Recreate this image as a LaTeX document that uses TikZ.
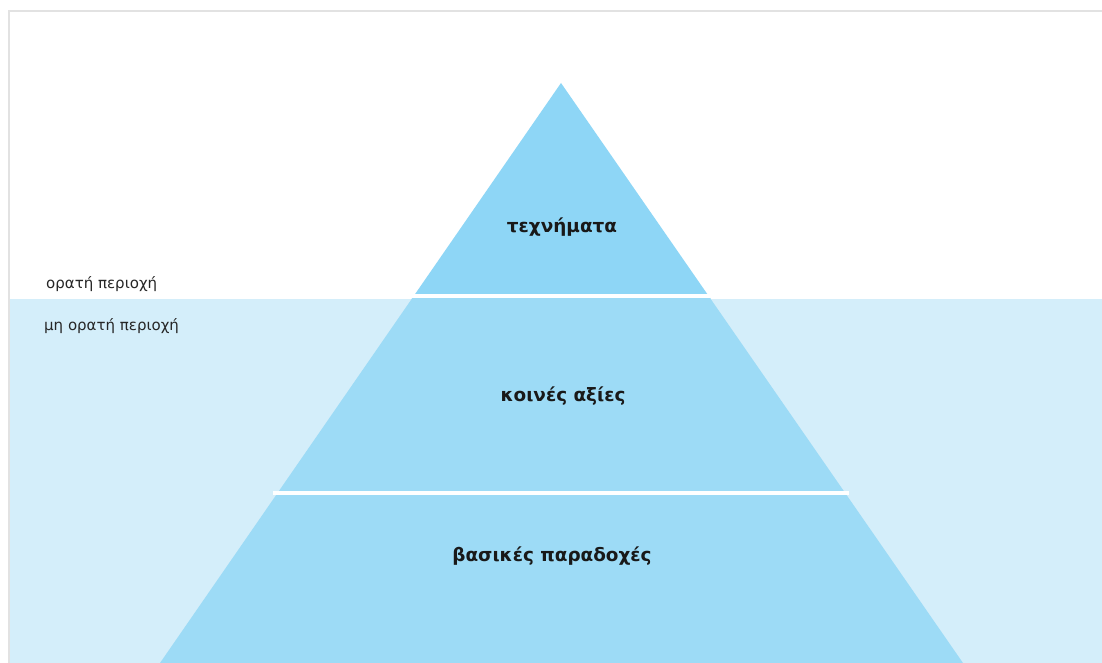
\documentclass[tikz,border=0pt]{standalone}
\usepackage{fontspec}
\setmainfont{DejaVu Sans}
\definecolor{water}{HTML}{D4EEFA}
\definecolor{topc}{HTML}{8ED6F6}
\definecolor{lowc}{HTML}{9DDBF6}
\definecolor{frame}{HTML}{E2E2E2}
\tikzset{
  level/.style={font=\bfseries\fontsize{18.4}{21}\selectfont, text=black!90},
  side/.style={font=\fontsize{15}{17}\selectfont, text=black!85, anchor=west, inner sep=0pt},
  sep/.style={white, line width=3.5pt},
}
\begin{document}
\begin{tikzpicture}[x=1pt,y=-1pt]
\useasboundingbox (0,0) rectangle (1102,663);
\fill[white] (0,0) rectangle (1102,663);
% water
\fill[water] (10,299) rectangle (1102,663);
% frame
\draw[frame, line width=2pt] (9,663) -- (9,11) -- (1102,11);
% pyramid
\begin{scope}
  \clip (0,0) rectangle (1102,298);
  \fill[topc] (561,83) -- (160,663) -- (963,663) -- cycle;
\end{scope}
\begin{scope}
  \clip (0,298) rectangle (1102,663);
  \fill[lowc] (561,83) -- (160,663) -- (963,663) -- cycle;
\end{scope}
% separators
\draw[sep] (412,296) -- (710,296);
\draw[sep] (273,493) -- (849,493);
% labels
\node[level] (l1) at (562,227) {τεχνήματα};
\node[level] (l2) at (563,396) {κοινές αξίες};
\node[level] (l3) at (552,556) {βασικές παραδοχές};
\node[side] (s1) at (46,284) {ορατή περιοχή};
\node[side] (s2) at (44,326) {μη ορατή περιοχή};
\end{tikzpicture}
\end{document}
